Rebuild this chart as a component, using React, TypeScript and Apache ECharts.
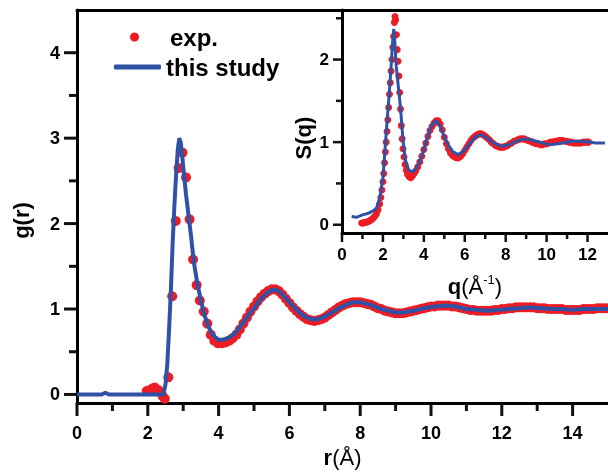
import React, { useEffect, useRef } from "react";
import * as echarts from "echarts";

// ---- Main panel: g(r) ----
const rExp = [1.97, 2.05, 2.13, 2.2, 2.3, 2.42, 2.48, 2.58, 2.69, 2.79, 2.87, 2.98, 3.08, 3.18, 3.28, 3.38, 3.47, 3.58, 3.68, 3.78, 3.88, 3.98,
  4.1, 4.2, 4.3, 4.4, 4.5, 4.6, 4.7, 4.8, 4.9, 5.0, 5.1, 5.2, 5.3, 5.4, 5.5, 5.6, 5.7, 5.8, 5.9, 6.0, 6.1, 6.2, 6.3, 6.4, 6.5, 6.6, 6.7, 6.8, 6.9,
  7.0, 7.1, 7.2, 7.3, 7.4, 7.5, 7.6, 7.7, 7.8, 7.9, 8.0, 8.1, 8.2, 8.3, 8.4, 8.5, 8.6, 8.7, 8.8, 8.9, 9.0, 9.1, 9.2, 9.3, 9.4, 9.5, 9.6, 9.7, 9.8, 9.9,
  10.0, 10.1, 10.2, 10.3, 10.4, 10.5, 10.6, 10.7, 10.8, 10.9, 11.0, 11.1, 11.2, 11.3, 11.4, 11.5, 11.6, 11.7, 11.8, 11.9,
  12.0, 12.1, 12.2, 12.3, 12.4, 12.5, 12.6, 12.7, 12.8, 12.9, 13.0, 13.1, 13.2, 13.3, 13.4, 13.5, 13.6, 13.7, 13.8, 13.9,
  14.0, 14.1, 14.2, 14.3, 14.4, 14.5, 14.6, 14.7, 14.8, 14.9, 15.0];
const gExp = [0.04, 0.05, 0.07, 0.08, 0.05, -0.02, -0.05, 0.2, 1.15, 2.03, 2.65, 2.83, 2.54, 2.05, 1.58, 1.28, 1.1, 0.97, 0.83, 0.7, 0.63, 0.6,
  0.6, 0.61, 0.63, 0.66, 0.7, 0.76, 0.83, 0.9, 0.97, 1.03, 1.09, 1.14, 1.18, 1.21, 1.23, 1.23, 1.21, 1.17, 1.12, 1.07, 1.02, 0.98, 0.94, 0.91, 0.88, 0.87, 0.86, 0.87, 0.88,
  0.9, 0.93, 0.96, 0.99, 1.02, 1.04, 1.06, 1.07, 1.08, 1.08, 1.08, 1.07, 1.06, 1.05, 1.03, 1.01, 1.0, 0.98, 0.97, 0.96, 0.95, 0.95, 0.95, 0.96, 0.97, 0.98, 0.99, 1.0, 1.01, 1.02,
  1.03, 1.03, 1.04, 1.04, 1.04, 1.04, 1.03, 1.03, 1.02, 1.01, 1.0, 0.99, 0.99, 0.98, 0.98, 0.98, 0.98, 0.98, 0.99, 0.99,
  1.0, 1.0, 1.01, 1.01, 1.02, 1.02, 1.02, 1.02, 1.02, 1.02, 1.01, 1.01, 1.01, 1.0, 1.0, 1.0, 1.0, 1.0, 0.99, 0.99,
  0.99, 0.99, 0.99, 1.0, 1.0, 1.0, 1.0, 1.01, 1.01, 1.01, 1.01];

const rLine = [0, 0.7, 0.8, 0.9, 2.0, 2.44, 2.5, 2.55, 2.6, 2.65, 2.7, 2.75, 2.8, 2.85, 2.89, 2.93, 2.97, 3.02, 3.08, 3.15, 3.22, 3.3, 3.4, 3.5,
  3.6, 3.7, 3.8, 3.9, 4.0, 4.1, 4.2, 4.3, 4.45, 4.6, 4.8, 5.0, 5.2, 5.4, 5.55, 5.7, 5.85, 6.0, 6.2, 6.4, 6.6, 6.8, 7.0, 7.2, 7.4, 7.6, 7.8, 8.0,
  8.2, 8.4, 8.6, 8.8, 9.0, 9.2, 9.5, 9.8, 10.1, 10.4, 10.7, 11.0, 11.3, 11.6, 11.9, 12.2, 12.5, 12.8, 13.1, 13.4, 13.7, 14.0, 14.3, 14.6, 15.0];
const gLine = [0, 0, 0.02, 0, 0, 0, 0.12, 0.35, 0.75, 1.2, 1.75, 2.2, 2.58, 2.88, 3.0, 2.95, 2.8, 2.58, 2.34, 2.1, 1.86, 1.55, 1.3, 1.1,
  0.93, 0.81, 0.72, 0.67, 0.64, 0.64, 0.65, 0.67, 0.71, 0.79, 0.9, 1.01, 1.12, 1.2, 1.23, 1.21, 1.15, 1.08, 0.99, 0.92, 0.88, 0.88, 0.91, 0.96, 1.01, 1.05, 1.08, 1.08,
  1.06, 1.03, 1.0, 0.98, 0.96, 0.96, 0.98, 1.01, 1.03, 1.04, 1.03, 1.0, 0.99, 0.98, 0.99, 1.0, 1.01, 1.02, 1.01, 1.0, 1.0, 0.99, 1.0, 1.0, 1.0];

// ---- Inset: S(q) ----
const qExp = [0.96, 1.04, 1.12, 1.2, 1.28, 1.36, 1.44, 1.52, 1.6, 1.68, 1.76, 1.84, 1.9, 1.95, 2.0, 2.04, 2.08, 2.12, 2.16, 2.2, 2.24, 2.28,
  2.32, 2.36, 2.4, 2.44, 2.48, 2.52, 2.56, 2.59, 2.62, 2.66, 2.7, 2.74, 2.78, 2.82, 2.86, 2.9, 2.94, 2.98, 3.03, 3.08, 3.14, 3.2, 3.28, 3.36,
  3.44, 3.52, 3.6, 3.7, 3.8, 3.9, 4.0, 4.1, 4.2, 4.3, 4.4, 4.5, 4.6, 4.7, 4.8, 4.9, 5.0, 5.1, 5.2, 5.3, 5.4, 5.5, 5.6, 5.7, 5.8, 5.9,
  6.0, 6.1, 6.2, 6.3, 6.4, 6.5, 6.6, 6.7, 6.8, 6.9, 7.0, 7.1, 7.2, 7.3, 7.4, 7.5, 7.6, 7.7, 7.8, 7.9, 8.0, 8.1, 8.2, 8.3, 8.4, 8.5, 8.6, 8.7,
  8.8, 8.9, 9.0, 9.1, 9.2, 9.3, 9.4, 9.5, 9.6, 9.7, 9.8, 9.9, 10.0, 10.1, 10.2, 10.3, 10.4, 10.5, 10.6, 10.7, 10.8, 10.9, 11.0, 11.1, 11.2,
  11.3, 11.4, 11.5, 11.6, 11.7, 11.8, 11.9, 12.0, 12.05];
const sExp = [0.02, 0.02, 0.03, 0.03, 0.04, 0.05, 0.06, 0.08, 0.1, 0.13, 0.18, 0.25, 0.33, 0.42, 0.52, 0.62, 0.75, 0.88, 1.0, 1.13, 1.27, 1.42,
  1.58, 1.72, 1.86, 2.0, 2.15, 2.28, 2.45, 2.52, 2.48, 2.3, 2.12, 1.98, 1.8, 1.6, 1.4, 1.2, 1.04, 0.92, 0.82, 0.73, 0.66, 0.61, 0.58, 0.57,
  0.59, 0.62, 0.65, 0.7, 0.76, 0.83, 0.91, 0.99, 1.07, 1.14, 1.19, 1.23, 1.26, 1.26, 1.22, 1.15, 1.06, 0.98, 0.92, 0.87, 0.84, 0.82, 0.81, 0.81, 0.83, 0.86,
  0.9, 0.94, 0.98, 1.02, 1.05, 1.07, 1.09, 1.1, 1.1, 1.09, 1.07, 1.05, 1.03, 1.0, 0.98, 0.96, 0.95, 0.94, 0.94, 0.94, 0.95, 0.96, 0.98, 0.99, 1.01, 1.02, 1.03, 1.04,
  1.04, 1.04, 1.03, 1.02, 1.01, 1.0, 0.99, 0.98, 0.98, 0.97, 0.97, 0.98, 0.98, 0.99, 1.0, 1.0, 1.01, 1.01, 1.02, 1.02, 1.02, 1.01, 1.01, 1.0, 1.0,
  0.99, 0.99, 0.99, 0.99, 0.99, 1.0, 1.0, 1.0, 1.0];

const qLine = [0.47, 0.7, 1.0, 1.3, 1.55, 1.7, 1.85, 2.0, 2.1, 2.2, 2.3, 2.4, 2.47, 2.53, 2.58, 2.65, 2.75, 2.85, 2.98, 3.1, 3.25, 3.4, 3.55,
  3.7, 3.85, 4.0, 4.2, 4.4, 4.6, 4.8, 5.0, 5.2, 5.4, 5.65, 5.9, 6.2, 6.5, 6.8, 7.1, 7.4, 7.8, 8.2, 8.6, 9.0, 9.5, 10.1, 10.6, 11.2, 11.8, 12.4, 12.85];
const sLine = [0.1, 0.09, 0.12, 0.14, 0.17, 0.21, 0.33, 0.57, 0.9, 1.25, 1.56, 1.92, 2.2, 2.37, 2.22, 1.92, 1.68, 1.44, 1.03, 0.78, 0.67, 0.64, 0.66,
  0.72, 0.8, 0.91, 1.08, 1.21, 1.26, 1.19, 1.07, 0.96, 0.89, 0.85, 0.88, 0.97, 1.06, 1.09, 1.05, 0.99, 0.95, 0.97, 1.02, 1.04, 1.01, 0.97, 0.98, 1.01, 1.01, 0.99, 0.99];

// ---- Axis ranges and tick values ----
const mainXRange = [0, 15];
const mainYRange = [-0.1, 4.5];
const insetXRange = [0, 13];
const insetYRange = [-0.1, 2.6];
const mainXMajor = [0, 2, 4, 6, 8, 10, 12, 14];
const mainXMinor = [1, 3, 5, 7, 9, 11, 13];
const mainYMajor = [0, 1, 2, 3, 4];
const mainYMinor = [0.5, 1.5, 2.5, 3.5];
const insetXMajor = [0, 2, 4, 6, 8, 10, 12];
const insetXMinor = [1, 3, 5, 7, 9, 11];
const insetYMajor = [0, 1, 2];
const insetYMinor = [0.5, 1.5, 2.5];

const RED = "#ED1C24";
const BLUE = "#2F52A6";
const TICK = "#111111";
const FONT = "'Liberation Sans', Arial, sans-serif";

const MAIN_GRID = { left: 77, top: 10, width: 531, height: 393 };
const INSET_GRID = { left: 342, top: 10, width: 266, height: 223 };

const pairs = (xs: number[], ys: number[]) => xs.map((x, i) => [x, ys[i]]);

function valueAxis(o: any) {
  return {
    type: "value",
    gridIndex: o.grid,
    position: o.position,
    min: o.range[0],
    max: o.range[1],
    name: o.name,
    nameLocation: "middle",
    nameGap: o.nameGap,
    nameTextStyle: o.nameTextStyle,
    axisLine: { show: true, onZero: false, lineStyle: { color: "#000", width: 3 } },
    axisTick: { show: false },
    axisLabel: o.ticks
      ? {
          show: true, customValues: o.ticks, margin: o.labelMargin, color: "#000",
          fontFamily: FONT, fontWeight: "bold", fontSize: o.labelSize,
        }
      : { show: false },
    splitLine: { show: false },
  };
}

const titleRich = {
  b: { fontFamily: FONT, fontWeight: "bold", fontSize: 22, color: "#000", lineHeight: 26 },
  n: { fontFamily: FONT, fontWeight: "normal", fontSize: 22, color: "#000", lineHeight: 26 },
  sup: { fontFamily: FONT, fontWeight: "normal", fontSize: 13, color: "#000", lineHeight: 13, verticalAlign: "top" },
};

export default function App() {
  const ref = useRef<HTMLDivElement>(null);
  const tickRef = useRef<HTMLDivElement>(null);
  useEffect(() => {
    if (!ref.current || !tickRef.current) return;
    const chart = echarts.init(ref.current, null, { renderer: "svg" });
    const option: any = {
      animation: false,
      grid: [
        { ...MAIN_GRID, containLabel: false, outerBoundsMode: "none" },
        { ...INSET_GRID, containLabel: false, outerBoundsMode: "none" },
      ],
      legend: [
        {
          data: [{ name: "exp.", icon: "circle" }], left: 130, top: 25, itemWidth: 61, itemHeight: 9, padding: 0,
          selectedMode: false,
          textStyle: { fontFamily: FONT, fontWeight: "bold", fontSize: 24, color: "#000" },
        },
        {
          data: [{ name: "this study", icon: "roundRect" }], left: 114, top: 55, itemWidth: 47, itemHeight: 5, padding: 0,
          selectedMode: false,
          textStyle: { fontFamily: FONT, fontWeight: "bold", fontSize: 24, color: "#000" },
        },
      ],
      xAxis: [
        valueAxis({
          grid: 0, position: "bottom", range: mainXRange, ticks: mainXMajor, labelSize: 18, labelMargin: 21,
          name: "{b|r}{n|(Å)}", nameGap: 41, nameTextStyle: { rich: titleRich },
        }),
        valueAxis({ grid: 0, position: "top", range: mainXRange }),
        valueAxis({
          grid: 1, position: "bottom", range: insetXRange, ticks: insetXMajor, labelSize: 17, labelMargin: 13,
          name: "{b|q}{n|(Å}{sup|-1}{n|)}", nameGap: 40, nameTextStyle: { rich: titleRich },
        }),
      ],
      yAxis: [
        valueAxis({
          grid: 0, position: "left", range: mainYRange, ticks: mainYMajor, labelSize: 18, labelMargin: 17,
          name: "g(r)", nameGap: 45,
          nameTextStyle: { fontFamily: FONT, fontWeight: "bold", fontSize: 22, color: "#000", padding: [0, 28, 0, 0] },
        }),
        valueAxis({
          grid: 1, position: "left", range: insetYRange, ticks: insetYMajor, labelSize: 17, labelMargin: 13,
          name: "S(q)", nameGap: 28,
          nameTextStyle: { fontFamily: FONT, fontWeight: "bold", fontSize: 22, color: "#000", padding: [0, 33, 0, 0] },
        }),
      ],
      series: [
        {
          name: "exp.", type: "scatter", xAxisIndex: 0, yAxisIndex: 0, data: pairs(rExp, gExp),
          symbol: "circle", symbolSize: 10, itemStyle: { color: RED, opacity: 1 }, z: 2,
        },
        {
          name: "this study", type: "line", xAxisIndex: 0, yAxisIndex: 0, data: pairs(rLine, gLine),
          symbol: "none", showSymbol: false, lineStyle: { color: BLUE, width: 4 }, itemStyle: { color: BLUE }, z: 3,
        },
        {
          name: "exp.", type: "scatter", xAxisIndex: 2, yAxisIndex: 1, data: pairs(qExp, sExp),
          symbol: "circle", symbolSize: 7, itemStyle: { color: RED, opacity: 1 }, z: 2,
        },
        {
          name: "this study", type: "line", xAxisIndex: 2, yAxisIndex: 1, data: pairs(qLine, sLine),
          symbol: "none", showSymbol: false, lineStyle: { color: BLUE, width: 3 }, itemStyle: { color: BLUE }, z: 3,
        },
      ],
    };
    chart.setOption(option);

    // Tick marks: positions come from the main chart's axis scales; drawn on a transparent overlay chart
    const overlay = echarts.init(tickRef.current, null, { renderer: "svg" });
    const ticks: any[] = [];
    const toPx = (xi: number, yi: number, xr: number[], yr: number[], box: any, pt: number[]) => {
      let p: any = null;
      try {
        p = chart.convertToPixel({ xAxisIndex: xi, yAxisIndex: yi }, pt);
      } catch (e) {
        p = null;
      }
      if (!p || !isFinite(p[0]) || !isFinite(p[1])) {
        p = [
          box.left + ((pt[0] - xr[0]) / (xr[1] - xr[0])) * box.width,
          box.top + box.height - ((pt[1] - yr[0]) / (yr[1] - yr[0])) * box.height,
        ];
      }
      return p as number[];
    };
    const addTicks = (xi: number, yi: number, xr: number[], yr: number[], box: any, dir: "x" | "y", values: number[], len: number, width: number) => {
      values.forEach((v) => {
        const p = toPx(xi, yi, xr, yr, box, dir === "x" ? [v, yr[0]] : [xr[0], v]);
        const shape =
          dir === "x"
            ? { x1: p[0], y1: p[1] + 1, x2: p[0], y2: p[1] + len }
            : { x1: p[0] - len, y1: p[1], x2: p[0] - 1, y2: p[1] };
        ticks.push({ type: "line", shape, style: { stroke: TICK, lineWidth: width } });
      });
    };
    addTicks(0, 0, mainXRange, mainYRange, MAIN_GRID, "x", mainXMajor, 13, 3);
    addTicks(0, 0, mainXRange, mainYRange, MAIN_GRID, "x", mainXMinor, 8, 3);
    addTicks(0, 0, mainXRange, mainYRange, MAIN_GRID, "y", mainYMajor, 13, 3);
    addTicks(0, 0, mainXRange, mainYRange, MAIN_GRID, "y", mainYMinor, 8, 3);
    addTicks(2, 1, insetXRange, insetYRange, INSET_GRID, "x", insetXMajor, 9, 2.5);
    addTicks(2, 1, insetXRange, insetYRange, INSET_GRID, "x", insetXMinor, 6, 2.5);
    addTicks(2, 1, insetXRange, insetYRange, INSET_GRID, "y", insetYMajor, 9, 2.5);
    addTicks(2, 1, insetXRange, insetYRange, INSET_GRID, "y", insetYMinor, 6, 2.5);
    overlay.setOption({ animation: false, graphic: ticks });

    return () => {
      overlay.dispose();
      chart.dispose();
    };
  }, []);
  return (
    <div style={{ position: "fixed", left: 0, top: 0, width: 608, height: 472 }}>
      <div ref={ref} style={{ position: "absolute", left: 0, top: 0, width: 608, height: 472, zIndex: 1 }} />
      <div ref={tickRef} style={{ position: "absolute", left: 0, top: 0, width: 608, height: 472, zIndex: 2, pointerEvents: "none" }} />
    </div>
  );
}
